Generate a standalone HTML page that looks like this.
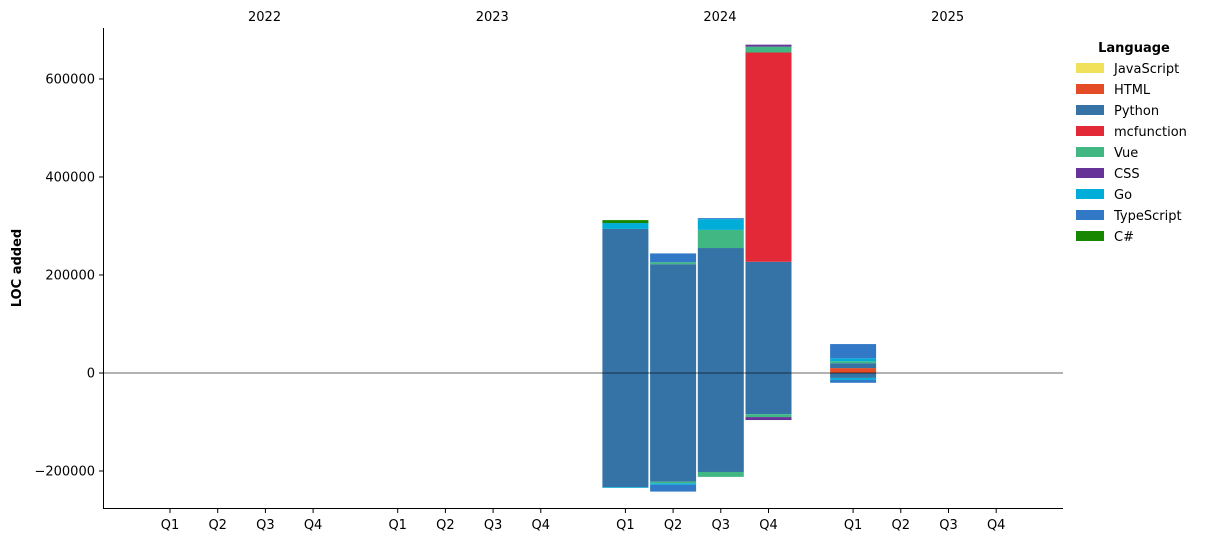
<!DOCTYPE html>
<html><head><meta charset="utf-8"><style>
body{margin:0;background:#fff;font-family:"DejaVu Sans","Liberation Sans",sans-serif;}
svg text{font-family:"DejaVu Sans","Liberation Sans",sans-serif;font-size:13px;fill:#000;}
</style></head><body>
<svg id="chart" width="1208" height="542" viewBox="0 0 1208 542" xmlns="http://www.w3.org/2000/svg"></svg>
<script>
const years = ["2022","2023","2024","2025"];
const quarters = ["Q1","Q2","Q3","Q4"];
const languages = ["JavaScript","HTML","Python","mcfunction","Vue","CSS","Go","TypeScript","C#"];
const colors = ["#f1e05a","#e34c26","#3572a5","#e32837","#41b883","#663399","#00add8","#3178c6","#178600"];
const yTicks = [-200000,0,200000,400000,600000];
// bars: [yearIndex, quarterIndex]
const barSlots = [[2,0],[2,1],[2,2],[2,3],[3,0]];
// positive values per bar per language
const posValues = [
 [0,0,294000,0,0,0,12000,0,6000],
 [0,0,222000,0,4000,0,0,18000,0],
 [0,0,255000,0,0,0,0,0,0],
 [0,0,227000,427000,12000,4000,0,0,0],
 [0,10000,10000,0,4000,0,6000,29000,0]
];
posValues[2][4]=37000; posValues[2][6]=22000; posValues[2][7]=2000;
const negValues = [
 [0,0,-233000,0,0,0,-1500,0,0],
 [0,0,-222000,0,-3000,0,-3000,-14000,0],
 [0,0,-202000,0,-10000,0,0,0,0],
 [0,0,-84000,0,-6000,-6000,0,0,0],
 [0,0,-10000,0,0,0,-4000,-6000,0]
];
const svg=document.getElementById('chart');
const NS='http://www.w3.org/2000/svg';
function mk(t,a){const e=document.createElementNS(NS,t);for(const k in a)e.setAttribute(k,a[k]);svg.appendChild(e);return e;}
const yMin=-275500,yMax=704000,pxTop=28,pxBot=508;
function y(v){return pxBot-(v-yMin)/(yMax-yMin)*(pxBot-pxTop);}
function x(yi,qi){return 170+yi*227.7+qi*47.7;}
const bw=46;
// bars
barSlots.forEach((s,b)=>{
  const cx=x(s[0],s[1]);
  let acc=0;
  posValues[b].forEach((v,l)=>{if(!v)return;const r=mk('rect',{x:cx-bw/2,y:y(acc+v),width:bw,height:y(acc)-y(acc+v),fill:colors[l]});
    
    acc+=v;});
  acc=0;
  negValues[b].forEach((v,l)=>{if(!v)return;const r=mk('rect',{x:cx-bw/2,y:y(acc),width:bw,height:y(acc+v)-y(acc),fill:colors[l]});
    
    acc+=v;});
});
// zero line
let zl=mk('line',{x1:103,x2:1063,y1:y(0),y2:y(0),stroke:'#000','stroke-width':0.8,opacity:0.8});


// axes
let ya=mk('line',{x1:103.5,x2:103.5,y1:pxTop,y2:pxBot,stroke:'#000','stroke-width':1});


let xa=mk('line',{x1:103,x2:1063,y1:pxBot+0.5,y2:pxBot+0.5,stroke:'#000','stroke-width':1});


yTicks.forEach(v=>{
  const t=mk('line',{x1:99,x2:103,y1:y(v),y2:y(v),stroke:'#000'});
  
  
  const l=mk('text',{x:95,y:y(v)+4.5,'text-anchor':'end'});l.textContent=v<0?'\u2212'+(-v):String(v);
  
  
});
years.forEach((yr,yi)=>{
  const yl=mk('text',{x:x(yi,1.5)+23,y:21,'text-anchor':'middle'});yl.textContent=yr;
  
  
  quarters.forEach((q,qi)=>{
    const t=mk('line',{x1:x(yi,qi),x2:x(yi,qi),y1:509,y2:513,stroke:'#000'});
    
    
    const l=mk('text',{x:x(yi,qi),y:529,'text-anchor':'middle'});l.textContent=q;
    
    
  });
});
const yt=mk('text',{x:21,y:268,'text-anchor':'middle','font-weight':'bold',transform:'rotate(-90 21 268)'});yt.textContent='LOC added';


// legend
const lt=mk('text',{x:1134,y:52,'text-anchor':'middle','font-weight':'bold'});lt.textContent='Language';


languages.forEach((n,i)=>{
  const yy=68+i*21;
  const r=mk('rect',{x:1076,y:yy-5,width:28,height:10,fill:colors[i]});
  
  
  const t=mk('text',{x:1114,y:yy+5});t.textContent=n;
  
  
});
</script>
</body></html>
